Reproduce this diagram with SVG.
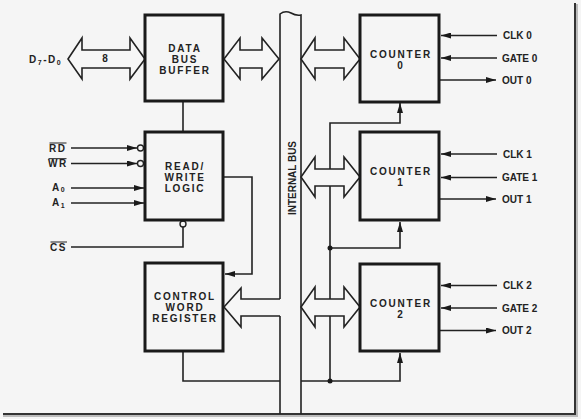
<svg xmlns="http://www.w3.org/2000/svg" width="581" height="419" viewBox="0 0 581 419">
<style>
text{font-family:"Liberation Sans",Arial,sans-serif;font-weight:bold;font-size:10px;fill:#222}
.lbl{letter-spacing:1.8px}
.in{letter-spacing:1.5px}
.box{fill:none;stroke:#1a1a1a;stroke-width:3}
.ln{fill:none;stroke:#222;stroke-width:1.6}
.da{fill:#f6f6f6;stroke:#222;stroke-width:1.6;stroke-linejoin:miter}
.bub{fill:#f6f6f6;stroke:#222;stroke-width:1.4}
.ob{stroke:#222;stroke-width:1}
</style>
<defs>
<marker id="arr" viewBox="0 0 10 6" refX="10" refY="3" markerWidth="10" markerHeight="6" markerUnits="userSpaceOnUse" orient="auto">
<path d="M0,0 L10,3 L0,6 Z" fill="#1a1a1a"/>
</marker>
</defs>
<rect x="0" y="0" width="581" height="419" fill="#f5f5f5"/>
<g id="frame">
<polyline points="3,416 577,416 577,4" fill="none" stroke="#bbb" stroke-width="2"/>
<polyline points="3,414 575,414 575,3" fill="none" stroke="#333" stroke-width="2"/>
</g>

<g id="connectors">
<path class="ln" d="M280,299 V14 Q285,10 291,13 Q296,16 301,15 V414"/>
<path class="ln" d="M280,316 V414"/>
<path class="ln" d="M183,101 V132"/>
<path class="ln" d="M223,177 H252 V274 H225" marker-end="url(#arr)"/>
<path class="ln" d="M183,351 V381 H280"/>
<path class="ln" d="M330,381 V123 H400 V103" marker-end="url(#arr)"/>
<path class="ln" d="M330,248 H400 V222" marker-end="url(#arr)"/>
<path class="ln" d="M301,381 H400 V353" marker-end="url(#arr)"/>
<circle cx="330" cy="248" r="2.5" fill="#1a1a1a"/>
<circle cx="330" cy="381" r="2.5" fill="#1a1a1a"/>
<polygon class="da" points="68,59 82,38 82,50 130,50 130,38 145,59 130,79 130,68 82,68 82,79"/>
<polygon class="da" points="224,59 240,38 240,50 262,50 262,38 279,59 262,79 262,68 240,68 240,79"/>
<polygon class="da" points="301,59 315,38 315,50 344,50 344,38 360,59 344,79 344,68 315,68 315,79"/>
<polygon class="da" points="301,177 315,157 315,169 344,169 344,157 360,177 344,197 344,186 315,186 315,197"/>
<polygon class="da" points="301,307 315,287 315,299 344,299 344,287 360,307 344,327 344,316 315,316 315,327"/>
<path class="da" d="M280,299 H241 V288 L224,307 L241,327 V316 H280"/>
<path class="ln" d="M71,148 H137" marker-end="url(#arr)"/>
<path class="ln" d="M71,163.5 H137" marker-end="url(#arr)"/>
<path class="ln" d="M71,188 H144" marker-end="url(#arr)"/>
<path class="ln" d="M71,203 H144" marker-end="url(#arr)"/>
<path class="ln" d="M71,247 H183 V227"/>
<circle class="bub" cx="140.5" cy="148" r="3"/>
<circle class="bub" cx="140.5" cy="163.5" r="3"/>
<circle class="bub" cx="183" cy="224" r="3"/>
<path class="ln" d="M497,35.5 H441" marker-end="url(#arr)"/>
<path class="ln" d="M497,58 H441" marker-end="url(#arr)"/>
<path class="ln" d="M440,80 H496" marker-end="url(#arr)"/>
<path class="ln" d="M497,154 H441" marker-end="url(#arr)"/>
<path class="ln" d="M497,177.5 H441" marker-end="url(#arr)"/>
<path class="ln" d="M440,199 H496" marker-end="url(#arr)"/>
<path class="ln" d="M497,285.5 H441" marker-end="url(#arr)"/>
<path class="ln" d="M497,308 H441" marker-end="url(#arr)"/>
<path class="ln" d="M440,330.5 H496" marker-end="url(#arr)"/>
</g>

<g id="labels">
<text x="29" y="63" class="in" letter-spacing="1">D<tspan font-size="7" dy="2">7</tspan><tspan dy="-2">-D</tspan><tspan font-size="7" dy="2">0</tspan></text>
<text x="105" y="62" text-anchor="middle" font-size="9">8</text>
<text x="49" y="151.7" class="in" letter-spacing="2">RD</text>
<line class="ob" x1="49.5" y1="143" x2="66.5" y2="143"/>
<text x="48" y="167.3" class="in">WR</text>
<line class="ob" x1="48.5" y1="158.7" x2="66.5" y2="158.7"/>
<text x="52" y="190.7" class="in">A<tspan font-size="7" dy="1.5">0</tspan></text>
<text x="52" y="206" class="in">A<tspan font-size="7" dy="1.5">1</tspan></text>
<text x="50" y="250.5" class="in" letter-spacing="2">CS</text>
<line class="ob" x1="50.5" y1="242" x2="67" y2="242"/>
<text transform="translate(295.5,178) rotate(-90)" text-anchor="middle" font-size="11" textLength="74" lengthAdjust="spacingAndGlyphs">INTERNAL BUS</text>
<text x="503" y="39">CLK 0</text>
<text x="502" y="61.7">GATE 0</text>
<text x="502" y="83.5">OUT 0</text>
<text x="503" y="157.5">CLK 1</text>
<text x="502" y="181">GATE 1</text>
<text x="502" y="202.5">OUT 1</text>
<text x="503" y="289">CLK 2</text>
<text x="502" y="311.5">GATE 2</text>
<text x="502" y="334">OUT 2</text>
</g>

<g id="data-bus-buffer">
<rect class="box" x="145" y="15" width="78" height="86"/>
<text class="lbl" x="185" y="52" text-anchor="middle">DATA</text>
<text class="lbl" x="185" y="63" text-anchor="middle">BUS</text>
<text class="lbl" x="185" y="74" text-anchor="middle">BUFFER</text>
</g>
<g id="read-write-logic">
<rect class="box" x="145" y="132" width="78" height="88"/>
<text class="lbl" x="185" y="169.5" text-anchor="middle">READ/</text>
<text class="lbl" x="185" y="181" text-anchor="middle">WRITE</text>
<text class="lbl" x="185" y="192" text-anchor="middle">LOGIC</text>
</g>
<g id="control-word-register">
<rect class="box" x="145" y="263" width="78" height="88"/>
<text class="lbl" x="185" y="299.5" text-anchor="middle">CONTROL</text>
<text class="lbl" x="185" y="311" text-anchor="middle">WORD</text>
<text class="lbl" x="185" y="321.5" text-anchor="middle">REGISTER</text>
</g>
<g id="counter-0">
<rect class="box" x="360" y="15" width="79" height="87"/>
<text class="lbl" x="401" y="57.5" text-anchor="middle">COUNTER</text>
<text class="lbl" x="401" y="68.5" text-anchor="middle">0</text>
</g>
<g id="counter-1">
<rect class="box" x="360" y="132" width="79" height="88"/>
<text class="lbl" x="401" y="175" text-anchor="middle">COUNTER</text>
<text class="lbl" x="401" y="185.5" text-anchor="middle">1</text>
</g>
<g id="counter-2">
<rect class="box" x="360" y="264" width="79" height="87"/>
<text class="lbl" x="401" y="307" text-anchor="middle">COUNTER</text>
<text class="lbl" x="401" y="318" text-anchor="middle">2</text>
</g>
</svg>
